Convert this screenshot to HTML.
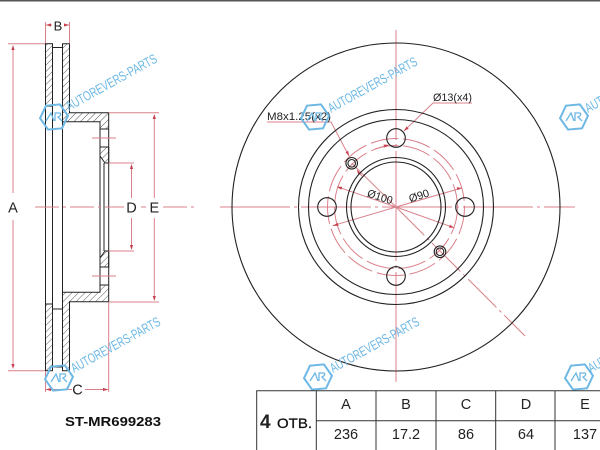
<!DOCTYPE html>
<html><head><meta charset="utf-8">
<style>
html,body{margin:0;padding:0;background:#fff;width:600px;height:450px;overflow:hidden}
svg{display:block;filter:blur(.3px)}
text{font-family:"Liberation Sans",sans-serif}
</style></head><body>
<svg width="600" height="450" viewBox="0 0 600 450" xmlns="http://www.w3.org/2000/svg">
<defs>
<pattern id="h" width="4.6" height="4.6" patternUnits="userSpaceOnUse" patternTransform="rotate(45)">
<line x1="0" y1="0" x2="0" y2="4.6" stroke="#333" stroke-width=".8"/>
</pattern>
<g id="hex">
<path d="M-14,0 L-7,-12 L7,-12 L14,0 L7,12 L-7,12 Z" fill="none" stroke="#6db8e4" stroke-width="2" transform="rotate(-5)"/>
<path d="M-8,4 L-3,-4 L0,4 M1,4 V-4 H6 Q8,-2 4,0 L8,4" fill="none" stroke="#6db8e4" stroke-width="1.3"/>
</g>
</defs>
<rect width="600" height="450" fill="#fff"/>
<rect width="600" height="1.5" fill="#555"/>

<!-- section -->
<g fill="url(#h)" stroke="#222" stroke-width="1">
<rect x="45.5" y="43.7" width="7" height="62.5"/>
<rect x="45.5" y="304" width="7" height="66.7"/>
<path d="M62.5,43.7 H69.5 V112.7 H108.7 V129 H100 V121.7 H62.5 Z"/>
<path d="M62.5,370.7 H69.5 V301.7 H108.7 V285 H100 V292.3 H62.5 Z"/>
<path d="M100,147 H108.7 V163 H105 L100,156 Z"/>
<path d="M100,267 H108.7 V251 H105 L100,258 Z"/>
</g>
<g fill="none" stroke="#222" stroke-width="1">
<path d="M45.5,106 V304 M52.5,47 V367 M62.5,121 V293 M52.5,47.5 H62.5 M52.5,309 H62.5 M52.5,367 H62.5"/>
<path d="M100,129 V285 M108.7,129 V285 M104,163 V251 M100,147 H108.7 M100,267 H108.7"/>
</g>

<!-- red dims left -->
<g fill="none" stroke="#d9808a" stroke-width="1">
<path d="M8,43.7 H45 M8,370.7 H45 M13,47 V193 M13,220 V367"/>
<path d="M45.5,22 V43 M69.5,22 V43 M46,25 H52 M64,25 H69"/>
<path d="M46,389.5 H72 M85,389.5 H108 M45.5,371 V392 M108.7,302 V392"/>
<path d="M108.7,163 H134 M108.7,251 H134 M131.5,166 V198 M131.5,218 V249"/>
<path d="M108.7,112.7 H159 M108.7,302 H159 M154.3,116 V198 M154.3,218 V299"/>
<path d="M92,138 H116 M92,276 H116"/>
<path d="M35,207 H124 M141,207 H146 M163,207 H196" stroke-dasharray="24 4 3 4"/>
</g>
<g fill="#c8404f">
<path d="M13,45 l-1.6,5 h3.2z M13,369 l-1.6,-5 h3.2z M46,25 l5,-1.6 v3.2z M69,25 l-5,-1.6 v3.2z"/>
<path d="M46,389.5 l5,-1.6 v3.2z M108,389.5 l-5,-1.6 v3.2z M131.5,164 l-1.6,5 h3.2z M131.5,250 l-1.6,-5 h3.2z"/>
<path d="M154.3,114 l-1.6,5 h3.2z M154.3,301 l-1.6,-5 h3.2z"/>
</g>
<g font-size="14.500" fill="#222">
<text x="13" y="212.500" text-anchor="middle">A</text>
<text x="58" y="30.500" text-anchor="middle" font-size="13">B</text>
<text x="77.500" y="394.500" text-anchor="middle">C</text>
<text x="131.500" y="212.500" text-anchor="middle">D</text>
<text x="154.300" y="212.500" text-anchor="middle">E</text>
</g>

<!-- disc centerlines -->
<g fill="none" stroke="#d9808a" stroke-width="1">
<path d="M396,30 V385" stroke-dasharray="110 4 3 4"/>
<path d="M220,207 H575" stroke-dasharray="70 4 3 4"/>
<path d="M396,207 L525,336" stroke-dasharray="40 4 3 4"/>
<path d="M396,207 L351.700,163.300"/>
<circle cx="396" cy="207" r="68.500" stroke-dasharray="28 5"/>
<circle cx="396" cy="207" r="61.500" stroke-dasharray="28 5"/>
<path d="M396,207 L337,186.700 M396,207 L461.700,188 M396,207 L332.700,225.700 M396,207 L454,227.700"/>
<path d="M267,122 H331 L349,156 M433,103 H472 M433,103 L404,131 M357,170 L362,176 M375,149 L388,145"/>
</g>
<g fill="#c8404f">
<path d="M337,186.700 l5.200,.1 l-1,3z M461.700,188 l-5,-.9 l.9,3z M332.700,225.700 l5,-2.800 l.9,3z M454,227.700 l-5,-.1 l1,-3z"/>
<path d="M349,156 l-3.500,-3.800 l2.700,-1.400z M404,131 l2.500,-4.500 l2.200,2.200z M357,170 l3.800,3.400 l-2.400,1.800z M389,145 l-4.500,2.500 l-1,-3z"/>
</g>
<!-- disc -->
<g fill="none" stroke="#222" stroke-width="1.1">
<circle cx="396" cy="207" r="164"/>
<circle cx="396" cy="207" r="97.500"/>
<circle cx="396" cy="207" r="87.500"/>
<circle cx="396" cy="207" r="49.500"/>
<circle cx="396" cy="207" r="45"/>
<circle cx="396" cy="138" r="9.300"/>
<circle cx="396" cy="276" r="9.300"/>
<circle cx="327" cy="207" r="9.300"/>
<circle cx="465" cy="207" r="9.300"/>
<circle cx="351.700" cy="163.300" r="5.800"/>
<circle cx="351.700" cy="163.300" r="3.800"/>
<circle cx="440" cy="251.700" r="5.800"/>
<circle cx="440" cy="251.700" r="3.800"/>
</g>
<g font-size="11" fill="#222">
<text x="267" y="120" textLength="64" lengthAdjust="spacingAndGlyphs">M8x1.25(x2)</text>
<text x="433" y="101" textLength="39" lengthAdjust="spacingAndGlyphs">Ø13(x4)</text>
<text transform="translate(380,197) rotate(18)" x="-13" y="3.500" textLength="26" lengthAdjust="spacingAndGlyphs">Ø100</text>
<text transform="translate(419,196) rotate(-18)" text-anchor="middle" y="3.500">Ø90</text>
</g>

<!-- watermarks -->
<use href="#hex" x="54" y="117"/>
<use href="#hex" x="315" y="117"/>
<use href="#hex" x="574" y="117"/>
<use href="#hex" x="59" y="378"/>
<use href="#hex" x="318" y="377"/>
<use href="#hex" x="579" y="377"/>
<g font-size="13.500" fill="#6db8e4">
<text transform="translate(69,111) rotate(-29)" textLength="102" lengthAdjust="spacingAndGlyphs">AUTOREVERS-PARTS</text>
<text transform="translate(331,113) rotate(-29)" textLength="100" lengthAdjust="spacingAndGlyphs">AUTOREVERS-PARTS</text>
<text transform="translate(588,113) rotate(-29)" textLength="100" lengthAdjust="spacingAndGlyphs">AUTOREVERS-PARTS</text>
<text transform="translate(74,373) rotate(-29)" textLength="100" lengthAdjust="spacingAndGlyphs">AUTOREVERS-PARTS</text>
<text transform="translate(333,373) rotate(-29)" textLength="100" lengthAdjust="spacingAndGlyphs">AUTOREVERS-PARTS</text>
<text transform="translate(591,373) rotate(-29)" textLength="100" lengthAdjust="spacingAndGlyphs">AUTOREVERS-PARTS</text>
</g>

<!-- table -->
<g fill="none" stroke="#333" stroke-width="1">
<path d="M256.700,450 V390.700 H600 M316.300,390.700 V450 M376,390.700 V450 M436,390.700 V450 M495.700,390.700 V450 M555,390.700 V450 M316.300,420.700 H600"/>
</g>
<g font-size="14.500" fill="#222" text-anchor="middle">
<text x="346" y="409">A</text><text x="406" y="409">B</text><text x="466" y="409">C</text><text x="526" y="409">D</text><text x="585" y="409">E</text>
<text x="346" y="439">236</text><text x="406" y="439">17.2</text><text x="466" y="439">86</text><text x="526" y="439">64</text><text x="585" y="439">137</text>
</g>
<text x="260" y="428" font-size="19" font-weight="bold" fill="#222">4</text>
<text x="277" y="428" font-size="14" fill="#111" stroke="#111" stroke-width=".3" textLength="35" lengthAdjust="spacingAndGlyphs">ОТВ.</text>
<text x="65" y="426" font-size="12.500" font-weight="bold" fill="#111" textLength="96" lengthAdjust="spacingAndGlyphs">ST-MR699283</text>
</svg>
</body></html>
